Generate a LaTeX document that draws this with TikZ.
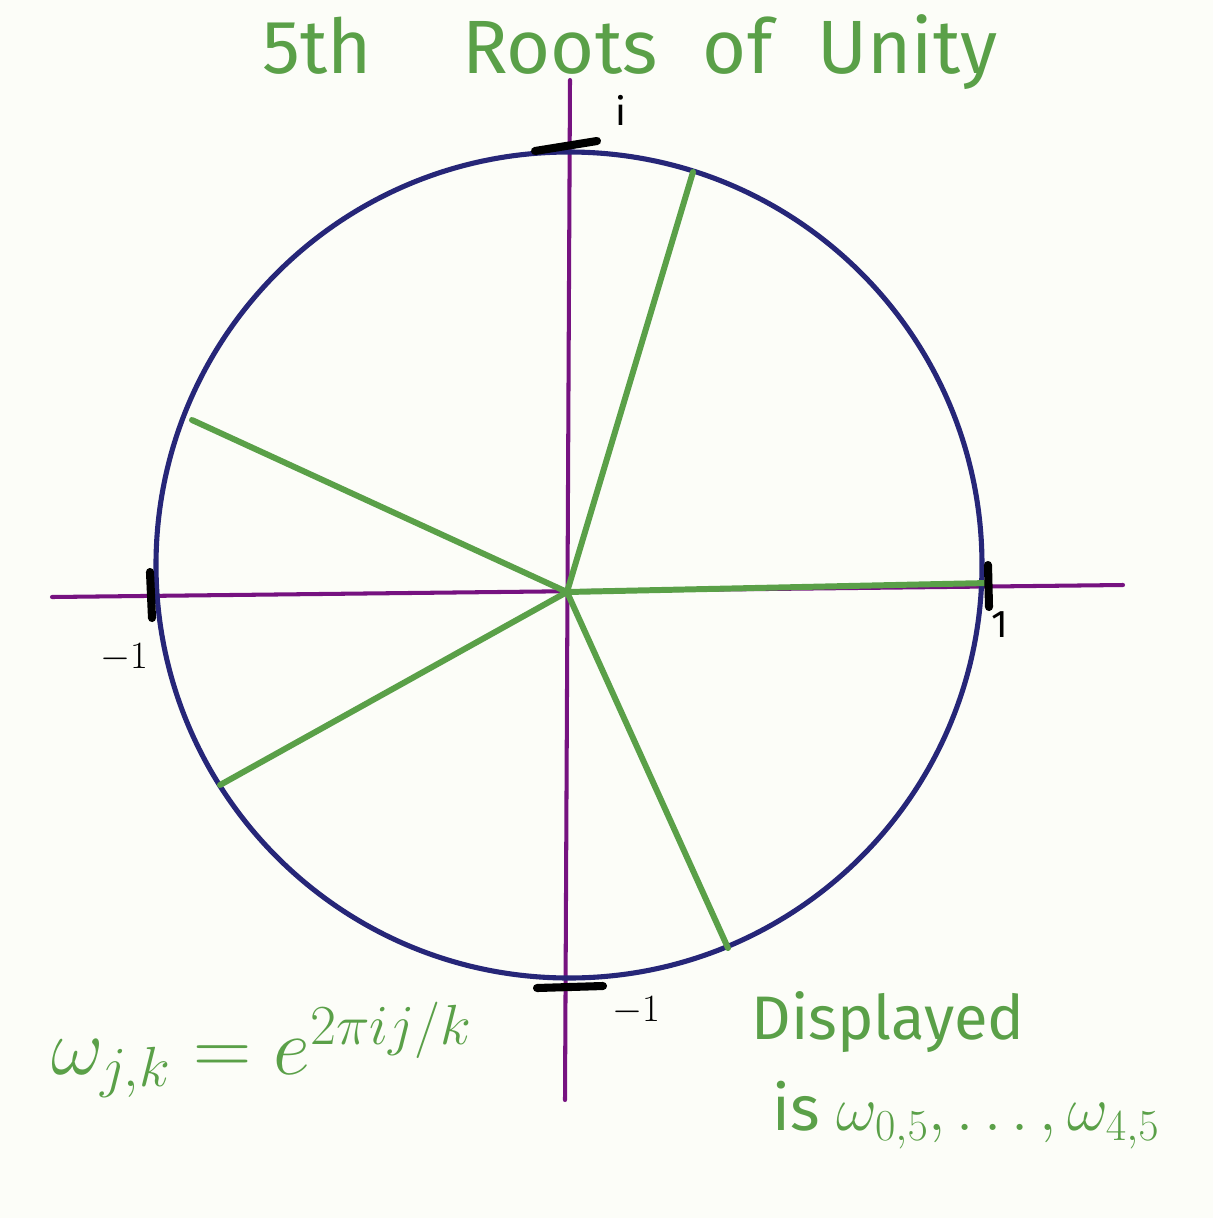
\RequirePackage{fix-cm}
\documentclass[tikz,border=0pt]{standalone}
\usepackage{fontspec}
\setmainfont{Fira Sans}
\usepackage{tikz}
\usetikzlibrary{positioning}
\definecolor{penGreen}{RGB}{90,160,72}
\definecolor{axisPurple}{RGB}{118,18,128}
\definecolor{circleNavy}{RGB}{38,38,120}
\definecolor{paper}{RGB}{252,253,248}

\begin{document}
\begin{tikzpicture}[
  x=0.02cm,y=-0.02cm,
  axis/.style={draw=axisPurple, line width=2.3pt, line cap=round},
  rootline/.style={draw=penGreen, line width=3.4pt, line cap=round},
  tickmark/.style={draw=black, line width=4.6pt, line cap=round},
  ink/.style={text=penGreen, inner sep=0pt},
  lbl/.style={inner sep=0pt, font=\fontsize{22}{24}\selectfont}
]
\fill[paper] (0,0) rectangle (1213,1218);
\useasboundingbox (0,0) rectangle (1213,1218);

% axes
\coordinate (xl) at (52,597);
\coordinate (xr) at (1123,585);
\coordinate (yt) at (570,80);
\coordinate (yb) at (565,1100);
\draw[axis] (xl) -- (xr);
\draw[axis] (yt) -- (yb);

% unit circle
\coordinate (c) at (569,565);
\draw[circleNavy, line width=2.9pt] (c) circle[radius=413];

% the five roots
\coordinate (O) at (567,592);
\coordinate (r0) at (988,583);
\coordinate (r1) at (693,172);
\coordinate (r2) at (192,420);
\coordinate (r3) at (220,785);
\coordinate (r4) at (728,948);
\foreach \r in {r0,r1,r2,r3,r4}
  \draw[rootline] (O) -- (\r);

% ticks at 1, i, -1, -i
\draw[tickmark] (535,151) -- (597,141);
\draw[tickmark] (988,565) -- (989,607);
\draw[tickmark] (150,572) -- (152,618);
\draw[tickmark] (537,988) -- (603,986);

\node[lbl] (li) at (621,110) {i};
\node[lbl] (l1) at (1000,625) {1};
\node[lbl] (lm1) at (124,658) {$-1$};
\node[lbl] (lmi) at (636,1011) {$-1$};

% green handwriting
\node[ink, font=\fontsize{43}{48}\selectfont] (title) at (630,52) {5th\hspace{1.2em}Roots\hspace{0.6em}of\hspace{0.6em}Unity};
\node[ink, font=\fontsize{46}{50}\selectfont] (formula) at (262,1050) {$\omega_{j,k} = e^{2\pi i j/k}$};
\node[ink, font=\fontsize{35}{40}\selectfont] (disp) at (888,1022) {Displayed};
\node[ink, font=\fontsize{36}{40}\selectfont] (which) at (966,1115) {is $\omega_{0,5},\dots,\omega_{4,5}$};
\end{tikzpicture}
\end{document}
